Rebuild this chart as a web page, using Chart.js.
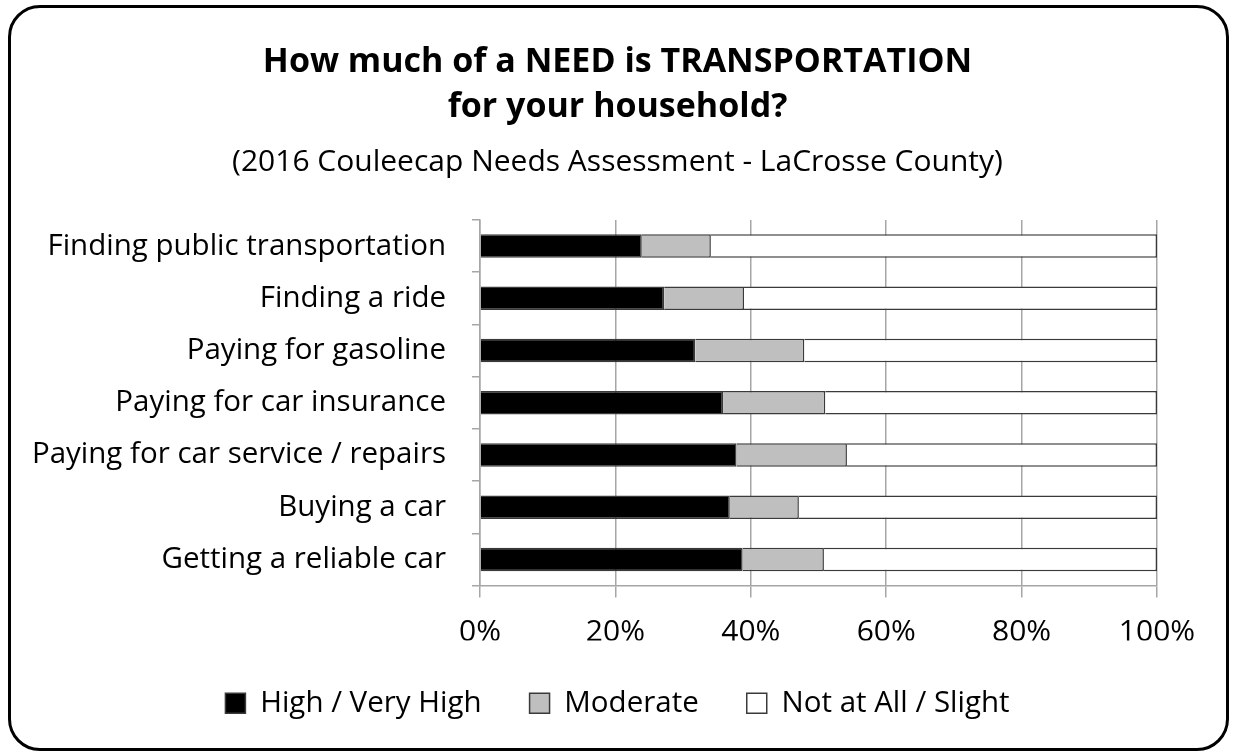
<!DOCTYPE html>
<html lang="en">
<head>
    <meta charset="UTF-8">
    <title>Transportation Needs - LaCrosse County</title>
    <script src="https://cdn.jsdelivr.net/npm/chart.js"></script>
    <style>
        body { margin: 0; background: #fff; }
        .frame {
            position: absolute;
            left: 8px; top: 5px;
            width: 1221px; height: 746px;
            box-sizing: border-box;
            border: 3px solid #000;
            border-radius: 32px;
            background: #fff;
        }
        #needChart { position: absolute; left: 0; top: 0; }
    </style>
</head>
<body>

    <div class="frame"></div>
    <canvas id="needChart" width="1235" height="755"></canvas>

    <script>
        // Survey items, top to bottom
        const items = [
            'Finding public transportation',
            'Finding a ride',
            'Paying for gasoline',
            'Paying for car insurance',
            'Paying for car service / repairs',
            'Buying a car',
            'Getting a reliable car'
        ];

        // Share of answers (%)
        const highVeryHigh = [23.9, 27.2, 31.8, 35.9, 37.9, 36.9, 38.8];
        const moderate     = [10.2, 11.8, 16.1, 15.1, 16.3, 10.2, 12.0];
        const notAtAll     = [65.9, 61.0, 52.1, 49.0, 45.8, 52.9, 49.2];

        const xTicks = [0, 20, 40, 60, 80, 100];

        const font = 'Open Sans';
        const gridGray = '#a6a6a6';
        const edge = '#3a3a3a';

        const ctx = document.getElementById('needChart').getContext('2d');
        const needChart = new Chart(ctx, {
            type: 'bar',
            data: {
                labels: items,
                datasets: [{
                    label: 'High / Very High',
                    data: highVeryHigh,
                    backgroundColor: '#000000',
                    borderColor: edge,
                    borderWidth: 1.5
                }, {
                    label: 'Moderate',
                    data: moderate,
                    backgroundColor: '#bfbfbf',
                    borderColor: edge,
                    borderWidth: 1.5
                }, {
                    label: 'Not at All / Slight',
                    data: notAtAll,
                    backgroundColor: '#ffffff',
                    borderColor: edge,
                    borderWidth: 1.5
                }]
            },
            options: {
                indexAxis: 'y',
                responsive: false,
                animation: false,
                barPercentage: 0.45,
                categoryPercentage: 1,
                layout: {
                    padding: { top: 40, right: 20, bottom: 27, left: 20 }
                },
                scales: {
                    x: {
                        stacked: true,
                        min: 0,
                        max: 100,
                        afterBuildTicks: (scale) => {
                            scale.ticks = xTicks.map(v => ({ value: v }));
                        },
                        // tighter box than the default, labels still sit 17px below the ticks
                        afterFit: (scale) => { scale.height = 55; },
                        ticks: {
                            callback: (v) => v + '%',
                            color: '#000',
                            padding: 17,
                            font: { family: font, size: 30 }
                        },
                        grid: {
                            color: gridGray,
                            lineWidth: 1.5,
                            tickLength: 12
                        },
                        border: { color: gridGray, width: 1.5 }
                    },
                    y: {
                        stacked: true,
                        afterFit: (scale) => { scale.width = 460; },
                        ticks: {
                            color: '#000',
                            padding: 26,
                            font: { family: font, size: 29.5 }
                        },
                        grid: {
                            drawOnChartArea: false,
                            offset: true,
                            color: gridGray,
                            lineWidth: 1.5,
                            tickLength: 8
                        },
                        border: { color: gridGray, width: 1.5 }
                    },
                    // empty right-hand gutter so the plot stops short of the frame
                    gutter: {
                        type: 'category',
                        position: 'right',
                        afterFit: (scale) => { scale.width = 58; },
                        ticks: { display: false },
                        grid: { display: false },
                        border: { display: false }
                    }
                },
                plugins: {
                    title: {
                        display: true,
                        text: ['How much of a NEED is TRANSPORTATION', 'for your household?'],
                        color: '#000',
                        font: { family: font, size: 34, weight: 'bold', lineHeight: 1.3235 },
                        padding: { top: 0, bottom: 14 }
                    },
                    subtitle: {
                        display: true,
                        text: '(2016 Couleecap Needs Assessment - LaCrosse County)',
                        color: '#000',
                        font: { family: font, size: 30, lineHeight: 1.2 },
                        padding: { top: 0, bottom: 40 }
                    },
                    legend: {
                        position: 'bottom',
                        labels: {
                            color: '#000',
                            boxWidth: 20,
                            boxHeight: 20,
                            padding: 48,
                            font: { family: font, size: 29.5 }
                        }
                    },
                    tooltip: { enabled: false }
                }
            }
        });
    </script>

</body>
</html>
